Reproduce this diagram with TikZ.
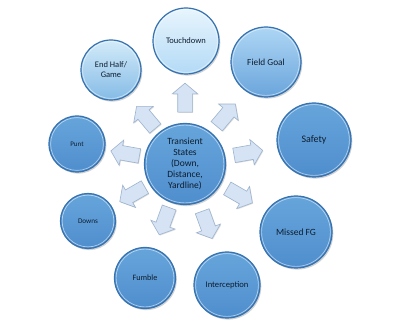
\documentclass[tikz,border=0pt]{standalone}
\usepackage{fontspec}
\setmainfont{Carlito}
\usetikzlibrary{shapes.arrows,shadows,calc}
\definecolor{ringblue}{HTML}{3772B0}
\definecolor{midtop}{HTML}{66A5DB}
\definecolor{midbot}{HTML}{4F8ECD}
\definecolor{txt}{HTML}{0F1D2E}
\definecolor{arrfill}{HTML}{D5E3F5}
\definecolor{arrdraw}{HTML}{9DB3CD}
\definecolor{tdtop}{HTML}{E8F5FD}
\definecolor{tdbot}{HTML}{B3DAF6}
\definecolor{ehtop}{HTML}{D3EBF9}
\definecolor{ehbot}{HTML}{85BBE6}
\definecolor{fgtop}{HTML}{AED6F4}
\definecolor{fgbot}{HTML}{6AA5DC}
\begin{document}
\begin{tikzpicture}[x=1pt,y=1pt,
  state/.style={circle, draw=ringblue, line width=1.2pt, minimum size=#1pt, inner sep=0pt,
    text=txt, align=center,
    drop shadow={shadow xshift=1.3pt, shadow yshift=-1.6pt, opacity=.35, fill=gray},
    path picture={\draw[white, opacity=.55, line width=.7pt] (path picture bounding box.center) circle[radius=#1pt/2-1.6pt];}},
  midfill/.style={top color=midtop, bottom color=midbot},
  barrow/.style={single arrow, fill=arrfill, draw=arrdraw, line width=.6pt,
    inner xsep=0pt, inner ysep=7pt, minimum height=29pt,
    single arrow head extend=5.5pt, single arrow tip angle=100, anchor=tail,
    drop shadow={shadow xshift=.8pt, shadow yshift=-.8pt, opacity=.25, fill=gray}}
]
\useasboundingbox[fill=white] (0,0) rectangle (400,322);

% centre
\node[state=81, midfill, font=\fontsize{9.5}{11}\selectfont] (C) at (185,158)
  {Transient\\States\\(Down,\\Distance,\\Yardline)};

% outer states
\node[state=66, top color=tdtop, bottom color=tdbot,
  font=\fontsize{8.5}{10}\selectfont] (td) at (186,281) {Touchdown};
\node[state=60, top color=ehtop, bottom color=ehbot,
  font=\fontsize{8.5}{10}\selectfont] (eh) at (111,252) {End Half/\\Game};
\node[state=70, top color=fgtop, bottom color=fgbot,
  font=\fontsize{9.3}{11}\selectfont] (fg) at (266,260) {Field Goal};
\node[state=74, midfill, font=\fontsize{10}{12}\selectfont] (sf) at (314,182) {Safety};
\node[state=72, midfill, font=\fontsize{9.5}{11}\selectfont] (mf) at (296,90) {Missed FG};
\node[state=66, midfill, font=\fontsize{8.6}{10}\selectfont] (ic) at (227,37) {Interception};
\node[state=61, midfill, font=\fontsize{8.2}{10}\selectfont] (fu) at (145,44) {Fumble};
\node[state=55, midfill, font=\fontsize{7.2}{9}\selectfont] (dn) at (88,101) {Downs};
\node[state=56, midfill, font=\fontsize{7}{9}\selectfont] (pu) at (77,178) {Punt};

% block arrows
\node[barrow, rotate=90]   (a1) at ($(C)+(90:51.5)$)   {};
\node[barrow, rotate=50]   (a2) at ($(C)+(50:49)$)    {};
\node[barrow, rotate=10]   (a3) at ($(C)+(10:49.5)$)   {};
\node[barrow, rotate=-30]  (a4) at ($(C)+(-30:48.5)$)  {};
\node[barrow, rotate=-70]  (a5) at ($(C)+(-70:50)$)    {};
\node[barrow, rotate=-110] (a6) at ($(C)+(-110:46)$)   {};
\node[barrow, rotate=-150] (a7) at ($(C)+(-150:46)$)   {};
\node[barrow, rotate=170]  (a8) at ($(C)+(170:46)$)    {};
\node[barrow, rotate=130]  (a9) at ($(C)+(130:46)$)    {};
\end{tikzpicture}
\end{document}
